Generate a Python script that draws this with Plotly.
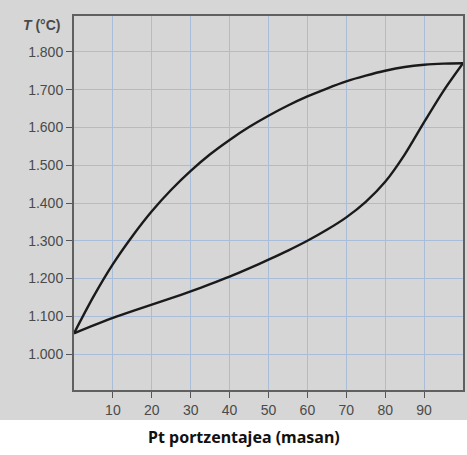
import plotly.graph_objects as go

# Liquidus (upper curve) and solidus (lower curve), Pt mass %
pt = [0, 5, 10, 15, 20, 25, 30, 35, 40, 45, 50, 55, 60, 65, 70, 75, 80, 85, 90, 95, 100]
t_upper = [1055, 1152, 1238, 1312, 1378, 1435, 1485, 1529, 1567, 1601, 1631, 1658, 1682, 1703, 1722,
           1737, 1750, 1760, 1766, 1769, 1770]
t_lower = [1055, 1076, 1096, 1114, 1131, 1148, 1166, 1185, 1205, 1227, 1250, 1274, 1300, 1329, 1362,
           1403, 1456, 1528, 1614, 1697, 1770]

x_ticks = [10, 20, 30, 40, 50, 60, 70, 80, 90]
y_ticks = [1000, 1100, 1200, 1300, 1400, 1500, 1600, 1700, 1800]
y_ticktext = ["1.000", "1.100", "1.200", "1.300", "1.400", "1.500", "1.600", "1.700", "1.800"]

line_style = dict(color="#1a1a1a", width=2.4, shape="spline", smoothing=0.8)

fig = go.Figure()
fig.add_trace(go.Scatter(x=pt, y=t_upper, mode="lines", line=line_style, hoverinfo="skip"))
fig.add_trace(go.Scatter(x=pt, y=t_lower, mode="lines", line=line_style, hoverinfo="skip"))

fig.add_shape(type="rect", xref="paper", yref="paper", x0=-0.2, x1=1.1, y0=-0.08, y1=1.1,
              fillcolor="#d6d6d6", line=dict(width=0), layer="below")

fig.update_layout(
    width=467, height=455,
    margin=dict(l=74, r=2, t=16, b=65),
    paper_bgcolor="white", plot_bgcolor="#d6d6d6",
    showlegend=False,
    font=dict(family="Liberation Sans, Arial, sans-serif", size=14, color="#4a4a4a"),
    xaxis=dict(range=[0, 100], tickvals=x_ticks, ticks="outside", ticklen=6, tickcolor="#555",
               showline=True, linecolor="#606060", linewidth=2, mirror=True,
               showgrid=True, gridcolor="#a9bdd9", gridwidth=1, zeroline=False,
               tickfont=dict(size=14, color="#4a4a4a")),
    yaxis=dict(range=[905, 1895], tickvals=y_ticks, ticktext=y_ticktext, ticks="outside", ticklen=6,
               tickcolor="#555", showline=True, linecolor="#606060", linewidth=2, mirror=True,
               showgrid=True, gridcolor="#a9bdd9", gridwidth=1, zeroline=False,
               tickfont=dict(size=14, color="#4a4a4a")),
    annotations=[
        dict(text="<b><i>T</i> (°C)</b>", xref="paper", yref="paper", x=-0.028, y=0.976,
             xanchor="right", yanchor="middle", showarrow=False,
             font=dict(family="Liberation Sans, Arial, sans-serif", size=14, color="#4a4a4a")),
        dict(text="<b>Pt portzentajea (masan)</b>", xref="paper", yref="paper", x=0.437, y=-0.126,
             xanchor="center", yanchor="middle", showarrow=False,
             font=dict(family="Noto Sans, Open Sans, sans-serif", size=16, color="#111")),
    ],
)

fig.write_html("out.html", config={"displayModeBar": False},
               post_script="document.body.style.margin='0';document.body.style.overflow='hidden';")
